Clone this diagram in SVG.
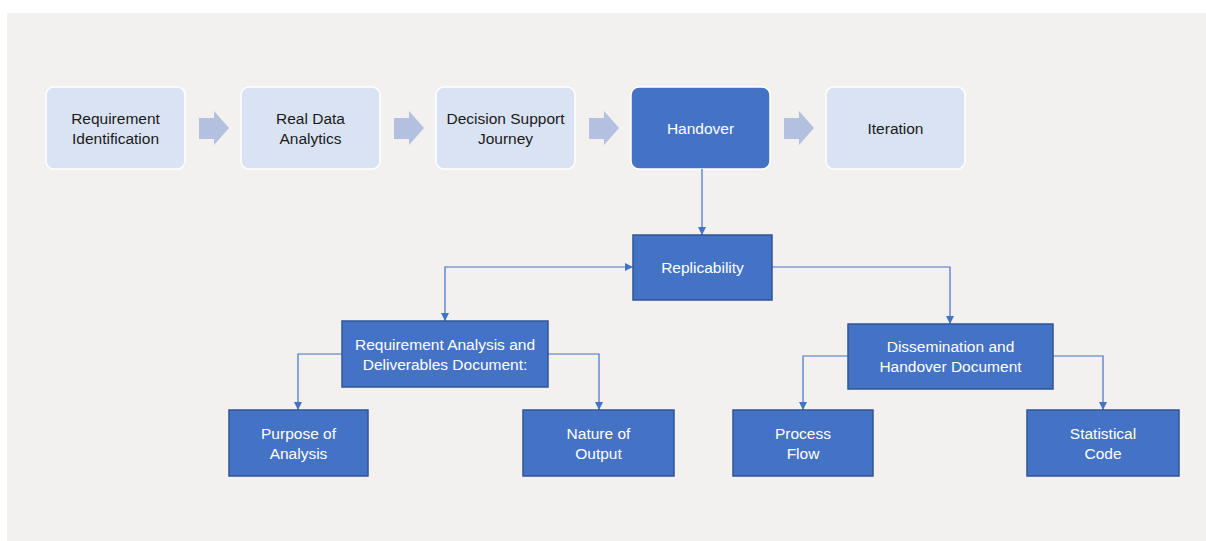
<svg xmlns="http://www.w3.org/2000/svg" width="1206" height="541" viewBox="0 0 1206 541">
<defs>
<style>
text{font-family:"Liberation Sans",Arial,sans-serif;font-size:15.5px;text-anchor:middle}
.light rect{fill:#dae3f3;stroke:#ffffff;stroke-width:1.5}
.light text{fill:#1a1a1a}
.dark rect{fill:#4472c4;stroke:#2f5597;stroke-width:1.5}
.dark text{fill:#ffffff}
.top rect{stroke:#ffffff}
.conn path{fill:none;stroke:#4472c4;stroke-width:1.2}
.chev{fill:#b4c0e0}
</style>
<marker id="ah" viewBox="0 0 10 10" refX="10" refY="5" markerWidth="8" markerHeight="8" markerUnits="userSpaceOnUse" orient="auto-start-reverse">
<path d="M0,0 L10,5 L0,10 Z" fill="#4472c4"/>
</marker>
</defs>
<rect x="0" y="0" width="1206" height="541" fill="#ffffff"/>
<rect x="7" y="13" width="1199" height="528" fill="#f2f1ef"/>

<g id="chevrons">
<path class="chev" d="M199,118 H214 V111 L229,128 L214,145 V139 H199 Z"/>
<path class="chev" d="M394,118 H409 V111 L424,128 L409,145 V139 H394 Z"/>
<path class="chev" d="M589,118 H604 V111 L619,128 L604,145 V139 H589 Z"/>
<path class="chev" d="M784,118 H799 V111 L814,128 L799,145 V139 H784 Z"/>
</g>

<g id="n1" class="light"><rect x="46" y="87" width="139" height="82" rx="8"/><text x="115.5" y="123.5">Requirement</text><text x="115.5" y="143.5">Identification</text></g>
<g id="n2" class="light"><rect x="241" y="87" width="139" height="82" rx="8"/><text x="310.5" y="123.5">Real Data</text><text x="310.5" y="143.5">Analytics</text></g>
<g id="n3" class="light"><rect x="436" y="87" width="139" height="82" rx="8"/><text x="505.5" y="123.5">Decision Support</text><text x="505.5" y="143.5">Journey</text></g>
<g id="n4" class="dark top"><rect x="631" y="87" width="139" height="82" rx="8"/><text x="700.5" y="133.5">Handover</text></g>
<g id="n5" class="light"><rect x="826" y="87" width="139" height="82" rx="8"/><text x="895.5" y="133.5">Iteration</text></g>

<g id="connectors" class="conn">
<path d="M702,169 V235" marker-end="url(#ah)"/>
<path d="M633,267 H445 V321" marker-start="url(#ah)" marker-end="url(#ah)"/>
<path d="M772,267 H950 V324" marker-end="url(#ah)"/>
<path d="M342,354 H298 V410" marker-end="url(#ah)"/>
<path d="M548,354 H599 V410" marker-end="url(#ah)"/>
<path d="M848,356 H803 V410" marker-end="url(#ah)"/>
<path d="M1053,356 H1103 V410" marker-end="url(#ah)"/>
</g>

<g id="n6" class="dark"><rect x="633" y="235" width="139" height="65"/><text x="702.5" y="272.5">Replicability</text></g>
<g id="n7" class="dark"><rect x="342" y="321" width="206" height="66"/><text x="445" y="349.5">Requirement Analysis and</text><text x="445" y="369.5">Deliverables Document:</text></g>
<g id="n8" class="dark"><rect x="848" y="324" width="205" height="65"/><text x="950.5" y="352">Dissemination and</text><text x="950.5" y="372">Handover Document</text></g>
<g id="n9" class="dark"><rect x="229" y="410" width="139" height="66"/><text x="298.5" y="438.5">Purpose of</text><text x="298.5" y="458.5">Analysis</text></g>
<g id="n10" class="dark"><rect x="523" y="410" width="151" height="66"/><text x="598.5" y="438.5">Nature of</text><text x="598.5" y="458.5">Output</text></g>
<g id="n11" class="dark"><rect x="733" y="410" width="140" height="66"/><text x="803" y="438.5">Process</text><text x="803" y="458.5">Flow</text></g>
<g id="n12" class="dark"><rect x="1027" y="410" width="152" height="66"/><text x="1103" y="438.5">Statistical</text><text x="1103" y="458.5">Code</text></g>
</svg>
